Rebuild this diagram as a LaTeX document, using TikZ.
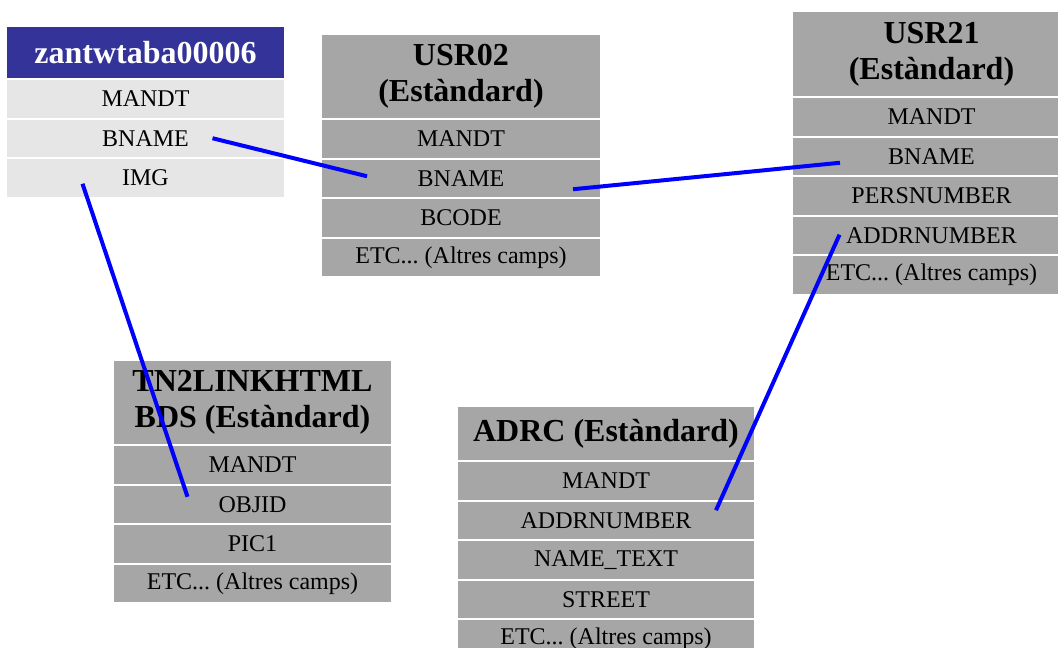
\documentclass[tikz,border=0pt]{standalone}
\usepackage{fontspec}
\setmainfont{Liberation Serif}
\definecolor{headblue}{HTML}{333399}
\definecolor{fieldgray}{HTML}{A6A6A6}
\definecolor{fieldlight}{HTML}{E6E6E6}
\newcommand{\etcrow}{ETC...\ (Altres camps)}
\frenchspacing
\begin{document}
\begin{tikzpicture}[x=1pt,y=-1pt,
		head/.style={fill=fieldgray,minimum width=#1,align=center,inner sep=0pt,outer sep=0pt,anchor=north west,font=\fontsize{32}{36}\selectfont\bfseries},
		field/.style={fill=fieldgray,minimum width=#1,minimum height=37.5pt,inner sep=0pt,outer sep=0pt,anchor=north,yshift=-2pt,font=\fontsize{24}{28}\selectfont},
		link/.style={draw=blue,line width=4pt}]
		\useasboundingbox (0,0) rectangle (1058,648);

		% zantwtaba00006
		\node[head=277pt,fill=headblue,text=white,minimum height=51pt] (zan-0) at (7,27) {zantwtaba00006};
		\foreach \t[count=\i from 1,evaluate=\i as\j using int(\i-1)] in {MANDT,BNAME,IMG}
		\node at(zan-\j.south)[field=277pt,fill=fieldlight](zan-\i){\t};

		% USR02
		\node[head=278pt,minimum height=83.5pt] (usr02-0) at (322,34.5) {USR02\\(Estàndard)};
		\foreach \t[count=\i from 1,evaluate=\i as\j using int(\i-1)] in {MANDT,BNAME,BCODE,\etcrow}
		\node at(usr02-\j.south)[field=278pt](usr02-\i){\t};

		% USR21
		\node[head=277pt,minimum height=84pt] (usr21-0) at (793,12) {USR21\\(Estàndard)};
		\foreach \t[count=\i from 1,evaluate=\i as\j using int(\i-1)] in {MANDT,BNAME,PERSNUMBER,ADDRNUMBER,\etcrow}
		\node at(usr21-\j.south)[field=277pt](usr21-\i){\t};

		% TN2LINKHTMLBDS
		\node[head=277pt,minimum height=83pt] (tn2-0) at (114,361) {TN2LINKHTML\\BDS (Estàndard)};
		\foreach \t[count=\i from 1,evaluate=\i as\j using int(\i-1)] in {MANDT,OBJID,PIC1,\etcrow}
		\node at(tn2-\j.south)[field=277pt](tn2-\i){\t};

		% ADRC
		\node[head=296pt,minimum height=53pt] (adrc-0) at (458,407) {ADRC (Estàndard)};
		\foreach \t[count=\i from 1,evaluate=\i as\j using int(\i-1)] in {MANDT,ADDRNUMBER,NAME\_TEXT,STREET,\etcrow}
		\node at(adrc-\j.south)[field=296pt](adrc-\i){\t};

		% links
		\draw[link] ([shift={(67,0)}]zan-2.center) -- ([shift={(-94,-2)}]usr02-2.center);
		\draw[link] ([shift={(112,11)}]usr02-2.center) -- ([shift={(-91.5,6.5)}]usr21-2.center);
		\draw[link] ([shift={(-63,6)}]zan-3.center) -- ([shift={(-65,-7.5)}]tn2-2.center);
		\draw[link] ([shift={(-92,-0.5)}]usr21-4.center) -- ([shift={(110,-10)}]adrc-2.center);
	\end{tikzpicture}
\end{document}
